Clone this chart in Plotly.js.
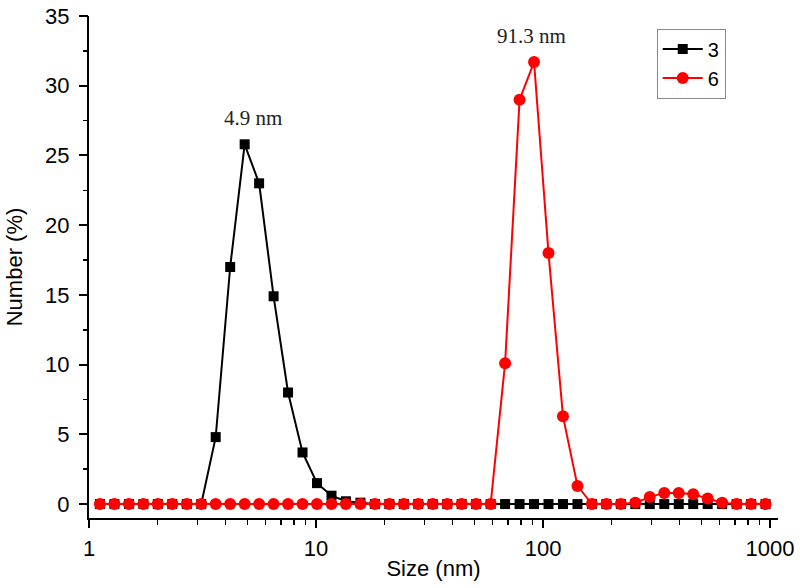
<!DOCTYPE html>
<html>
<head>
<meta charset="utf-8">
<script src="https://cdn.plot.ly/plotly-3.0.1.min.js"></script>
<style>html,body{margin:0;padding:0;background:#fff;}#chart{width:800px;height:588px;}</style>
</head>
<body>
<div id="chart"></div>
<script>
// Size bins (nm)
var sizes = [1.117, 1.294, 1.499, 1.736, 2.010, 2.328, 2.696, 3.122, 3.615, 4.187,
             4.849, 5.615, 6.503, 7.531, 8.721, 10.10, 11.70, 13.54, 15.69, 18.17,
             21.04, 24.36, 28.21, 32.67, 37.84, 43.82, 50.75, 58.77, 68.06, 78.82,
             91.28, 105.7, 122.4, 141.8, 164.2, 190.1, 220.2, 255.0, 295.3, 342.0,
             396.1, 458.7, 531.2, 615.1, 712.4, 825.0, 955.4];
// Number (%) for sample 3
var number3 = [0, 0, 0, 0, 0, 0, 0, 0, 4.8, 17.0,
               25.8, 23.0, 14.9, 8.0, 3.7, 1.5, 0.6, 0.2, 0.1, 0,
               0, 0, 0, 0, 0, 0, 0, 0, 0, 0,
               0, 0, 0, 0, 0, 0, 0, 0, 0, 0,
               0, 0, 0, 0, 0, 0, 0];
// Number (%) for sample 6
var number6 = [0, 0, 0, 0, 0, 0, 0, 0, 0, 0,
               0, 0, 0, 0, 0, 0, 0, 0, 0, 0,
               0, 0, 0, 0, 0, 0, 0, 0, 10.1, 29.0,
               31.7, 18.0, 6.3, 1.3, 0, 0, 0, 0.1, 0.5, 0.8,
               0.8, 0.7, 0.4, 0.1, 0, 0, 0];
var seriesNames = ["3", "6"];
var xTickVals = [1, 10, 100, 1000];
var xTickText = ["1", "10", "100", "1000"];
var xMinorVals = [2,3,4,5,6,7,8,9,20,30,40,50,60,70,80,90,200,300,400,500,600,700,800,900];
var yTickStep = 5;
var yMinorStep = 2.5;
var yRange = [-1, 35];
var peakLabels = [{x: 4.849, y: 25.8, text: "4.9 nm", dx: 8}, {x: 91.28, y: 31.7, text: "91.3 nm", dx: -3}];

var traces = [
  {x: sizes, y: number3, name: seriesNames[0], type: "scatter", mode: "lines+markers",
   line: {color: "#000000", width: 2},
   marker: {symbol: "square", size: 10, color: "#000000"}},
  {x: sizes, y: number6, name: seriesNames[1], type: "scatter", mode: "lines+markers",
   line: {color: "#ff0000", width: 2},
   marker: {symbol: "circle", size: 12, color: "#ff0000"}},
  // invisible helper trace so the minor-tick axis is drawn
  {x: [sizes[0]], y: [0], yaxis: "y2", type: "scatter", mode: "markers",
   marker: {opacity: 0}, showlegend: false, hoverinfo: "skip"}
];

var annotations = peakLabels.map(function (p) {
  return {x: Math.log10(p.x), y: p.y, xref: "x", yref: "y", text: p.text,
          showarrow: false, yanchor: "bottom", yshift: 12, xshift: p.dx,
          font: {family: "Liberation Serif, Times New Roman, serif", size: 21, color: "#222"}};
});

var layout = {
  width: 800, height: 588,
  margin: {l: 89, r: 22, t: 16, b: 70},
  paper_bgcolor: "#ffffff", plot_bgcolor: "#ffffff",
  font: {family: "Liberation Sans, Arial, sans-serif", size: 22, color: "#000"},
  showlegend: true,
  legend: {x: 0.824, y: 0.975, xanchor: "left", yanchor: "top",
           bordercolor: "#888", borderwidth: 1, bgcolor: "#fff",
           font: {size: 20}, tracegroupgap: 0, itemwidth: 40},
  xaxis: {type: "log", range: [0, 3.035], showgrid: false, zeroline: false,
          showline: true, linecolor: "#000", linewidth: 2,
          ticks: "outside", ticklen: 8, tickwidth: 2, tickcolor: "#000",
          tickmode: "array", tickvals: xTickVals, ticktext: xTickText,
          ticklabelstandoff: 2,
          minor: {ticks: "outside", ticklen: 5, tickwidth: 1.5, tickcolor: "#000",
                  tickmode: "array", tickvals: xMinorVals},
          title: {text: "Size (nm)", font: {size: 22}, standoff: 0}},
  yaxis: {range: yRange, showgrid: false, zeroline: false,
          showline: true, linecolor: "#000", linewidth: 2,
          ticks: "outside", ticklen: 8, tickwidth: 2, tickcolor: "#000",
          tickmode: "linear", tick0: 0, dtick: yTickStep,
          ticklabelstandoff: 5,
          title: {text: "Number (%)", font: {size: 22}, standoff: 16}},
  yaxis2: {overlaying: "y", side: "left", range: yRange, showgrid: false, zeroline: false,
           showline: false, showticklabels: false,
           ticks: "outside", ticklen: 5, tickwidth: 1.5, tickcolor: "#000",
           tickmode: "linear", tick0: 0, dtick: yMinorStep},
  annotations: annotations
};

Plotly.newPlot("chart", traces, layout, {displayModeBar: false, staticPlot: true});
</script>
</body>
</html>
